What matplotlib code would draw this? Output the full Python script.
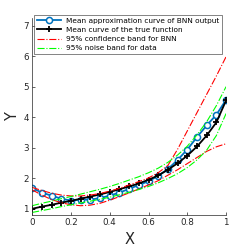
import numpy as np
import matplotlib
matplotlib.use("Agg")
import matplotlib.pyplot as plt

# ── data ─────────────────────────────────────────────────────────────────────
x = [0.0, 0.05, 0.1, 0.15, 0.2, 0.25, 0.3, 0.35, 0.4, 0.45, 0.5,
     0.55, 0.6, 0.65, 0.7, 0.75, 0.8, 0.85, 0.9, 0.95, 1.0]
bnn_mean = [1.68, 1.53, 1.43, 1.33, 1.27, 1.30, 1.30, 1.35, 1.43, 1.53, 1.65,
            1.78, 1.90, 2.08, 2.30, 2.60, 2.94, 3.35, 3.73, 4.08, 4.57]
true_mean = [1.00, 1.07, 1.13, 1.20, 1.26, 1.33, 1.40, 1.47, 1.55, 1.64, 1.73,
             1.83, 1.95, 2.09, 2.28, 2.49, 2.74, 3.04, 3.40, 3.83, 4.55]
conf_hi = [1.70, 1.60, 1.51, 1.45, 1.42, 1.42, 1.45, 1.50, 1.58, 1.67, 1.78,
           1.89, 2.01, 2.18, 2.42, 2.95, 3.55, 4.15, 4.75, 5.35, 5.98]
conf_lo = [1.62, 1.45, 1.30, 1.20, 1.13, 1.10, 1.12, 1.18, 1.28, 1.40, 1.52,
           1.65, 1.78, 1.92, 2.10, 2.28, 2.48, 2.68, 2.88, 3.03, 3.13]
noise_hi = [1.10, 1.18, 1.25, 1.33, 1.40, 1.48, 1.56, 1.64, 1.73, 1.83, 1.94,
            2.05, 2.18, 2.33, 2.52, 2.76, 3.05, 3.42, 3.85, 4.38, 5.00]
noise_lo = [0.88, 0.94, 1.00, 1.07, 1.13, 1.19, 1.25, 1.31, 1.38, 1.46, 1.54,
            1.63, 1.73, 1.85, 1.99, 2.15, 2.35, 2.60, 2.92, 3.40, 4.12]

blue = (0, 0.447, 0.741)

fig = plt.figure(figsize=(2.49, 2.49), dpi=100)
ax = fig.add_axes([0.129, 0.137, 0.779, 0.791])

ax.plot(x, bnn_mean, "-o", color=blue, lw=1.3, ms=4.4, mfc="white", mew=1.1,
        label="Mean approximation curve of BNN output")
ax.plot(x, true_mean, "-+", color="k", lw=1.3, ms=5, mew=1.3,
        label="Mean curve of the true function")
ax.plot(x, conf_hi, "-.", color="r", lw=0.8, label="95% confidence band for BNN")
ax.plot(x, conf_lo, "-.", color="r", lw=0.8)
ax.plot(x, noise_hi, "-.", color=(0, 1, 0), lw=0.8, label="95% noise band for data")
ax.plot(x, noise_lo, "-.", color=(0, 1, 0), lw=0.8)

ax.set_xlim(0, 1)
ax.set_ylim(0.8, 7.25)
ax.set_xticks([0, 0.2, 0.4, 0.6, 0.8, 1])
ax.set_xticklabels(["0", "0.2", "0.4", "0.6", "0.8", "1"])
ax.set_yticks([1, 2, 3, 4, 5, 6, 7])
ax.tick_params(direction="in", length=2.5, width=0.5, labelsize=6.3, pad=2.5,
               colors="#262626")
for s in ["top", "right"]:
    ax.spines[s].set_visible(False)
for s in ["left", "bottom"]:
    ax.spines[s].set_linewidth(0.5)
    ax.spines[s].set_color("#262626")

ax.set_xlabel("X", fontsize=10.5, labelpad=3, color="#262626")
ax.set_ylabel("Y", fontsize=10.5, labelpad=2, rotation=90, color="#262626")

leg = ax.legend(loc="upper left", bbox_to_anchor=(0.012, 1.015), fontsize=5.3,
                frameon=True, fancybox=False, edgecolor="#262626",
                handlelength=3.2, handletextpad=0.7, borderpad=0.35,
                labelspacing=0.42, borderaxespad=0)
leg.get_frame().set_linewidth(0.5)

plt.savefig("out.png", dpi=100)
